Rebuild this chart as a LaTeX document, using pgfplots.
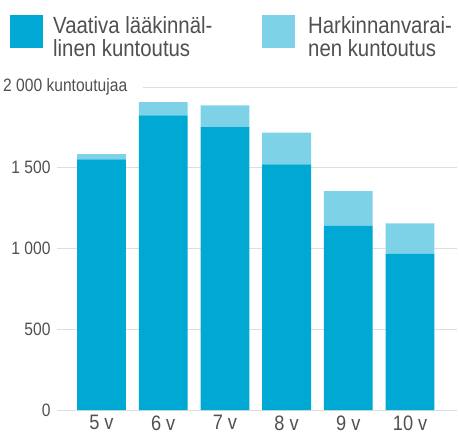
\documentclass[border=0pt]{standalone}
\usepackage{fontspec}
\setmainfont{Liberation Sans}[FakeStretch=0.87]
\usepackage{pgfplots}
\pgfplotsset{compat=1.18}
\definecolor{dark}{RGB}{0,169,212}
\definecolor{light}{RGB}{125,210,232}
\definecolor{txt}{RGB}{80,80,80}
\definecolor{gridc}{RGB}{222,222,222}
\begin{document}
\begin{tikzpicture}
\useasboundingbox (-57bp,-24bp) rectangle (402bp,410bp);
\begin{axis}[
  scale only axis, width=400bp, height=323bp,
  clip=false,
  ybar stacked, bar width=0.79,
  xmin=-0.72, xmax=5.76, ymin=0, ymax=2000,
  axis line style={draw=none},
  major tick length=0pt,
  xtick={0,1,2,3,4,5},
  xticklabels={5 v,6 v,7 v,8 v,9 v,10 v},
  ytick={0,500,1000,1500},
  yticklabels={0,500,1 000,1 500},
  ymajorgrids, grid style={draw=gridc, line width=0.8bp},
  tick label style={text=txt},
  yticklabel style={font=\fontsize{18}{18}\selectfont, xshift=-3bp},
  xticklabel style={font=\fontsize{21}{21}\selectfont, yshift=-2bp},
  legend columns=2,
  legend style={at={(0,1)}, anchor=north west, xshift=-47bp, yshift=72bp,
    draw=none, fill=none, inner sep=0pt, column sep=0pt,
    nodes={inner sep=0pt, text=txt}},
]
\addplot[fill=dark, draw=none, legend image code/.code={\fill[dark] (0bp,-16.5bp) rectangle (33bp,16.5bp);}]
  coordinates {(0,1552) (1,1824) (2,1752) (3,1521) (4,1142) (5,969)};
\addlegendentry{\fontsize{23.5}{20}\selectfont\hspace*{10bp}\makebox[209bp][l]{\begin{tabular}{@{}l@{}}Vaativa lääkinnäl-\\linen kuntoutus\end{tabular}}}
\addplot[fill=light, draw=none, legend image code/.code={\fill[light] (0bp,-16.5bp) rectangle (33bp,16.5bp);}]
  coordinates {(0,33) (1,83) (2,134) (3,196) (4,214) (5,187)};
\addlegendentry{\fontsize{23.5}{20}\selectfont\hspace*{13bp}\begin{tabular}{@{}l@{}}Harkinnanvarai-\\nen kuntoutus\end{tabular}}
\draw[gridc, line width=0.8bp] (axis cs:0.67,2000) -- (axis cs:5.76,2000);
\node[anchor=west, text=txt, inner sep=0pt, font=\fontsize{18}{18}\selectfont, xshift=-54bp] at (rel axis cs:0,1) {2 000 kuntoutujaa};
\end{axis}
\end{tikzpicture}
\end{document}
